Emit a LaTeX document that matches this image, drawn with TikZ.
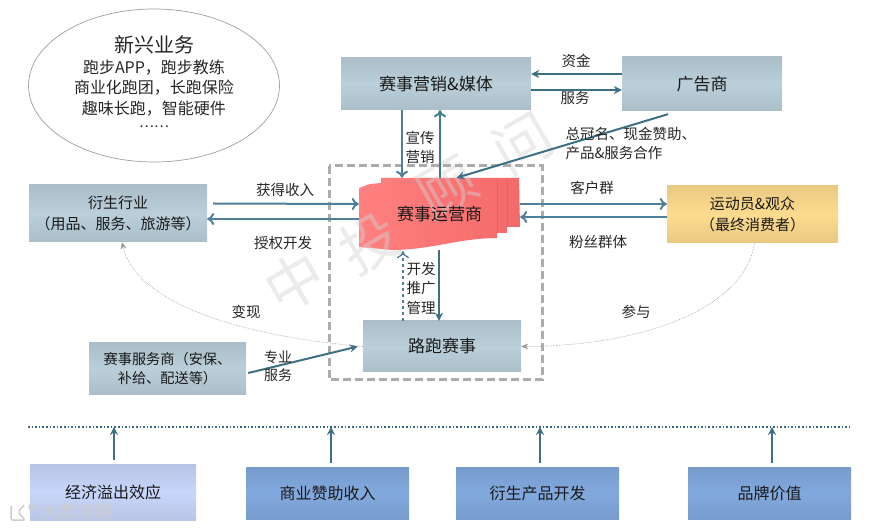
\documentclass[tikz,border=0pt]{standalone}
\usepackage{fontspec}
\setmainfont{Noto Sans CJK SC}
\usetikzlibrary{arrows.meta,shapes.geometric}

\definecolor{lineblue}{HTML}{4F7F9B}
\definecolor{linedark}{HTML}{3D6F85}
\definecolor{linegreen}{HTML}{3C7F86}
\definecolor{boxgrey}{HTML}{BACFDA}
\definecolor{boxblue}{HTML}{82A9DE}
\definecolor{boxpale}{HTML}{C8D6FB}
\definecolor{boxyellow}{HTML}{FDDB8E}
\definecolor{redleft}{HTML}{FF8080}
\definecolor{redright}{HTML}{F46A6A}
\definecolor{redlayer}{HTML}{EE6060}

\tikzset{
  txt/.style={font=\fontsize{14.5}{19}\selectfont, align=center, text=black!85},
  box/.style={rectangle, inner sep=0pt, top color=#1!92!black, bottom color=#1!92!black, middle color=#1, align=center, text=black!90, font=\fontsize{17}{21}\selectfont},
  box/.default=boxgrey,
  flow/.style={-{To[length=7pt,width=12pt]}, line width=2pt, lineblue},
  flowdark/.style={-{Stealth[length=8pt,width=8pt]}, line width=2pt, linedark},
  thin dots/.style={-{Stealth[length=7pt,width=6pt]}, gray!80, densely dotted, line width=.6pt},
  mark text/.style={text=gray!35, opacity=.45, rotate=30, font=\fontsize{58}{58}\selectfont, inner sep=0pt},
}

\begin{document}
\begin{tikzpicture}[x=1pt,y=-1pt,>=stealth]
\useasboundingbox (0,0) rectangle (871,529);

% --- Sagoma rossa ---
\shade[left color=redleft, right color=redright]
  (359,188) -- (370,184) -- (381,183) -- (381,178) -- (519,178) -- (520,227)
  -- (507,227) -- (507,233) -- (497,233) -- (497,238)
  .. controls (460,238) and (430,250) .. (392,250) -- (359,247) -- cycle;
\draw[redlayer, line width=.4pt] (497,178) -- (497,233) (507,178) -- (507,227);

% --- Filigrana ---
\node[mark text] (markA) at (295,282) {中};
\node[mark text] (markB) at (370,243) {投};
\node[mark text] (markC) at (447,188) {顾};
\node[mark text] (markD) at (523,143) {问};

% --- Riquadro tratteggiato ---
\draw[gray!65, line width=3pt, dash pattern=on 8pt off 4pt] (329,166) rectangle (542,380);

% --- Ellisse ---
\node[ellipse, draw=gray!75, line width=.7pt, minimum width=251, minimum height=153, inner sep=0pt, fill=white] (newbiz) at (154,85.5) {};
\node[txt, font=\fontsize{20}{24}\selectfont] (newtitle) at (154,45) {新兴业务};
\node[txt, font=\fontsize{16}{20.5}\selectfont] (newlist) at (154,88) {跑步APP，跑步教练\\商业化跑团，长跑保险\\趣味长跑，智能硬件};
\node[txt, font=\fontsize{14}{14}\selectfont] (newdots) at (154,127) {……};

% --- Riquadri ---
\node[box, minimum width=190, minimum height=52] (media) at (436,84) {赛事营销\&媒体};
\node[box, minimum width=160, minimum height=54] (sponsor) at (702,84) {广告商};
\node[box, minimum width=178, minimum height=57, font=\fontsize{15}{21}\selectfont] (derive) at (118,213.5) {衍生行业\\（用品、服务、旅游等）};
\node[box=boxyellow, minimum width=171, minimum height=57, font=\fontsize{15}{21}\selectfont] (fans) at (752.5,214) {运动员\&观众\\（最终消费者）};
\node[inner sep=0pt, minimum width=161, minimum height=72, font=\fontsize{17}{20}\selectfont, text=black!90] (operator) at (439.5,214) {赛事运营商};
\node[box, minimum width=158, minimum height=51] (race) at (442,346.5) {路跑赛事};
\node[box, minimum width=157, minimum height=52, font=\fontsize{14.2}{19}\selectfont] (service) at (167.5,369) {赛事服务商（安保、\\补给、配送等）};

% --- Frecce ---
\draw[flowdark] ([yshift=10pt]sponsor.west) -- ([yshift=10pt]media.east);
\draw[flowdark] ([yshift=-6pt]media.east) -- ([yshift=-6pt]sponsor.west);
\draw[flow] ([xshift=-34pt]media.south) -- ([xshift=-37.5pt]operator.north);
\draw[flow, linegreen] ([xshift=.5pt]operator.north) -- ([xshift=4pt]media.south);
\draw[flowdark] ([xshift=-34pt,yshift=-3pt]sponsor.south) -- ([xshift=17pt]operator.north);
\draw[flow] ([xshift=6pt,yshift=10pt]derive.east) -- ([yshift=10pt]operator.west);
\draw[flow] ([yshift=-5pt]operator.west) -- ([yshift=-5.5pt]derive.east);
\draw[flow] ([yshift=10pt]operator.east) -- ([yshift=10pt]fans.west);
\draw[flow] ([yshift=-3pt]fans.west) -- ([yshift=-3pt]operator.east);
\draw[flow, dashed, line width=1.3pt] ([xshift=-39pt]race.north) -- ([xshift=-36.5pt,yshift=-1pt]operator.south);
\draw[flowdark] ([xshift=-.5pt]operator.south) -- ([xshift=-3pt]race.north);
\draw[flowdark] ([xshift=2pt,yshift=-4pt]service.east) -- ([xshift=-5pt]race.west);
\draw[thin dots] (race.west) .. controls (230,335) and (135,300) .. ([xshift=4pt]derive.south);
\draw[thin dots] ([xshift=2pt]fans.south) .. controls (745,310) and (640,346) .. (race.east);

% --- Etichette ---
\node[txt] (fund) at (576,61) {资金};
\node[txt] (serve) at (575,98) {服务};
\node[txt] (promo) at (420,147) {宣传\\营销};
\node[txt, align=left, anchor=west] (title) at (562,143.5) {总冠名、现金赞助、\\产品\&服务合作};
\node[txt] (income) at (285,190) {获得收入};
\node[txt] (license) at (283,243) {授权开发};
\node[txt] (client) at (592,188) {客户群};
\node[txt] (fangroup) at (598,242) {粉丝群体};
\node[txt, font=\fontsize{14.5}{19.5}\selectfont] (develop) at (421,288) {开发\\推广\\管理};
\node[txt] (cash) at (246,312) {变现};
\node[txt, font=\fontsize{14}{18}\selectfont] (expert) at (278,366) {专业\\服务};
\node[txt] (join) at (636,312) {参与};

% --- Linea punteggiata ---
\coordinate (dotleft) at (28,427);
\coordinate (dotright) at (851,427);
\draw[lineblue!80!black, dotted, line width=1.6pt] (dotleft) -- (dotright);

% --- Riquadri in basso ---
\node[box=boxpale, minimum width=166, minimum height=55, font=\fontsize{16}{20}\selectfont] (spill) at (113,492.5) {经济溢出效应};
\node[box=boxblue, minimum width=163, minimum height=51, font=\fontsize{16}{20}\selectfont] (revenue) at (327.5,493.5) {商业赞助收入};
\node[box=boxblue, minimum width=163, minimum height=51, font=\fontsize{16}{20}\selectfont] (product) at (537.5,493.5) {衍生产品开发};
\node[box=boxblue, minimum width=163, minimum height=51, font=\fontsize{16}{20}\selectfont] (brand) at (769.5,493.5) {品牌价值};

\foreach \b/\s in {spill/1,revenue/3.5,product/2.5,brand/2.5}
  \draw[flowdark, line width=1.5pt] ([xshift=\s pt,yshift=5pt]\b.north) -- ([xshift=\s pt]\b.north |- dotleft);

% --- Logo ---
\node[text=gray!40, font=\fontsize{18}{18}\selectfont, inner sep=0pt] (logo) at (77.5,512) {大数跨境};
\draw[gray!40, line width=1.5pt, rounded corners=2pt] (11,506) -- (11,520) -- (25,520) -- (18,512) -- (24,505);
\draw[gray!40, line width=1.2pt] (32,507) circle (3pt);

\end{tikzpicture}
\end{document}
